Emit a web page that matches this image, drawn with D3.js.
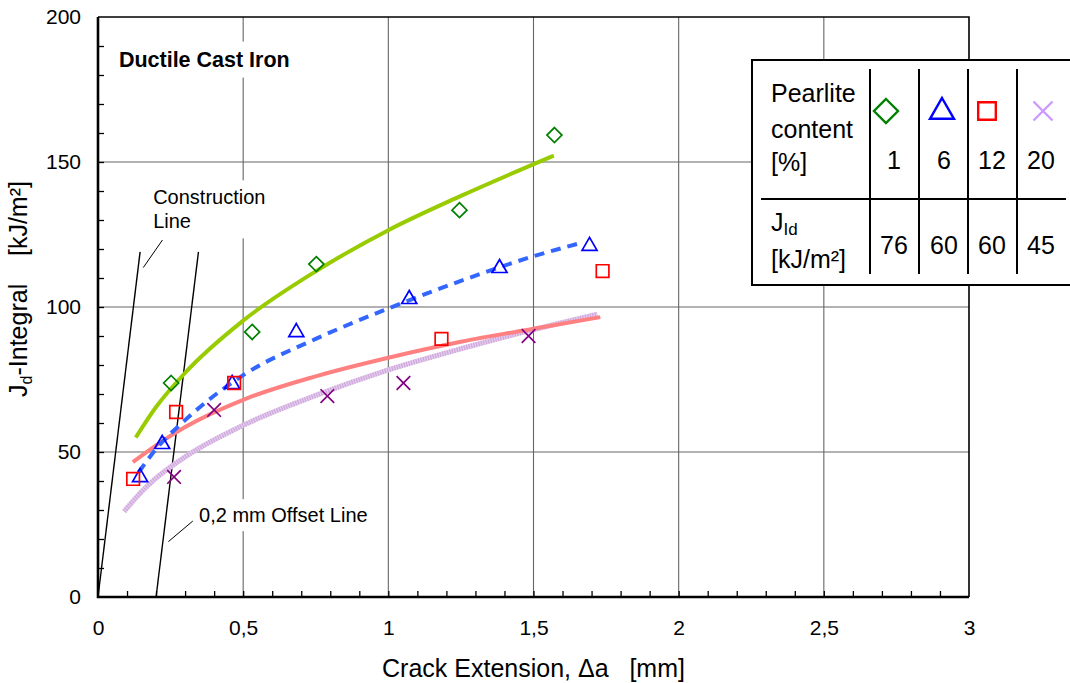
<!DOCTYPE html>
<html>
<head>
<meta charset="utf-8">
<script src="https://cdn.jsdelivr.net/npm/d3@7"></script>
<style>
  body { margin: 0; background: #fff; }
  svg { display: block; font-family: "Liberation Sans", Arial, sans-serif; }
  text { white-space: pre; }
</style>
</head>
<body>
<script>
// measured points (crack extension mm, J kJ/m²) per pearlite content
const pearlite = [1, 6, 12, 20];
const jId = [76, 60, 60, 45];

const p1X = [0.252, 0.531, 0.752, 1.245, 1.572];
const p1Y = [73.8, 91.4, 114.8, 133.4, 159.3];
const p6X = [0.145, 0.221, 0.462, 0.683, 1.072, 1.383, 1.693];
const p6Y = [41.7, 53.1, 73.8, 91.7, 103.1, 113.8, 121.4];
const p12X = [0.121, 0.269, 0.469, 1.183, 1.738];
const p12Y = [40.7, 63.8, 73.8, 89.0, 112.4];
const p20X = [0.262, 0.400, 0.790, 1.052, 1.483];
const p20Y = [41.4, 64.5, 69.3, 73.8, 90.0];

// fitted curves
const fit1X = [0.13, 0.2, 0.3, 0.5, 0.75, 1.0, 1.25, 1.57];
const fit1Y = [55, 65.5, 77.3, 95.3, 112.3, 126.5, 138.3, 152.2];
const fit6X = [0.14, 0.2, 0.3, 0.5, 0.75, 1.0, 1.25, 1.5, 1.66];
const fit6Y = [43, 51, 61, 76.5, 89, 99.5, 109, 117.5, 122];
const fit12X = [0.12, 0.2, 0.3, 0.5, 0.75, 1.0, 1.25, 1.5, 1.73];
const fit12Y = [46.5, 52.3, 58.6, 68, 76.1, 82.5, 88, 92.5, 96.5];
const fit20X = [0.09, 0.15, 0.2, 0.3, 0.5, 0.75, 1.0, 1.25, 1.5, 1.72];
const fit20Y = [29.5, 36.3, 41, 48.3, 59.2, 69.5, 78.3, 85.6, 92.2, 97.5];

// construction & offset line
const constructionX = [0, 0.145], constructionY = [0, 119];
const offsetX = [0.2, 0.346], offsetY = [0, 119];

const xTicks = [0, 0.5, 1, 1.5, 2, 2.5, 3];
const yTicks = [0, 50, 100, 150, 200];

const W = 1070, H = 683;
const svg = d3.select('body').append('svg').attr('width', W).attr('height', H);

const x = d3.scaleLinear().domain([0, 3]).range([98, 969]);
const y = d3.scaleLinear().domain([0, 200]).range([597, 17]);
const fmt = d => String(d).replace('.', ',');

// grid
svg.append('g').selectAll('line').data(xTicks.slice(1, -1)).join('line')
    .attr('x1', d => x(d)).attr('x2', d => x(d)).attr('y1', y(0)).attr('y2', y(200))
    .attr('stroke', '#666').attr('stroke-width', 1.1);
svg.append('g').selectAll('line').data(yTicks.slice(1, -1)).join('line')
    .attr('x1', x(0)).attr('x2', x(3)).attr('y1', d => y(d)).attr('y2', d => y(d))
    .attr('stroke', '#666').attr('stroke-width', 1.1);

// frame top/right
svg.append('path')
    .attr('d', `M${x(0)},${y(200)}H${x(3)}V${y(0)}`)
    .attr('fill', 'none').attr('stroke', '#000').attr('stroke-width', 1.6);

// minor ticks (inward)
const xMinor = d3.axisBottom(x).tickValues(d3.range(1, 30).map(i => i / 10)).tickSize(-6).tickFormat('');
const yMinor = d3.axisLeft(y).tickValues(d3.range(1, 20).map(i => i * 10)).tickSize(-6).tickFormat('');
const gxm = svg.append('g').attr('transform', `translate(0,${y(0)})`).call(xMinor);
const gym = svg.append('g').attr('transform', `translate(${x(0)},0)`).call(yMinor);
[gxm, gym].forEach(g => {
    g.select('.domain').remove();
    g.selectAll('line').attr('stroke', '#000').attr('stroke-width', 1.3);
});

// tick labels
const gx = svg.append('g').attr('transform', `translate(0,${y(0)})`)
    .call(d3.axisBottom(x).tickValues(xTicks).tickSize(0).tickPadding(23).tickFormat(fmt));
const gy = svg.append('g').attr('transform', `translate(${x(0)},0)`)
    .call(d3.axisLeft(y).tickValues(yTicks).tickSize(0).tickPadding(17));
[gx, gy].forEach(g => {
    g.select('.domain').remove();
    g.selectAll('text').attr('font-size', 21).attr('font-family', '"Liberation Sans", Arial, sans-serif').attr('fill', '#000');
});

// axis lines
svg.append('path')
    .attr('d', `M${x(0)},${y(200)}V${y(0)}H${x(3)}`)
    .attr('fill', 'none').attr('stroke', '#000').attr('stroke-width', 2.6);

// axis titles
svg.append('text')
    .attr('x', (x(0) + x(3)) / 2).attr('y', 677)
    .attr('text-anchor', 'middle').attr('font-size', 25)
    .text('Crack Extension, Δa   [mm]');

const yTitle = svg.append('text')
    .attr('transform', 'translate(27,289) rotate(-90)')
    .attr('text-anchor', 'middle').attr('font-size', 25);
yTitle.append('tspan').text('J');
yTitle.append('tspan').attr('font-size', 16).attr('dy', 5).text('d');
yTitle.append('tspan').attr('dy', -5).text('-Integral    [kJ/m²]');

// labels with white boxes
function boxedLabel(lines, px, py, size, weight, pad) {
    const g = svg.append('g');
    const t = g.append('text').attr('font-size', size).attr('font-weight', weight);
    lines.forEach((l, i) => t.append('tspan').attr('x', px).attr('y', py + i * size * 1.2).text(l));
    const b = t.node().getBBox();
    g.insert('rect', 'text')
        .attr('x', b.x - pad[0]).attr('y', b.y - pad[1])
        .attr('width', b.width + 2 * pad[0]).attr('height', b.height + 2 * pad[1])
        .attr('fill', '#fff');
    return g;
}
boxedLabel(['Ductile Cast Iron'], x(0.072), y(182.9), 21.5, 'bold', [8, 6]);
boxedLabel(['Construction', 'Line'], x(0.19), y(135.4), 20, 'normal', [4, 6]);
boxedLabel(['0,2 mm Offset Line'], x(0.348), y(25.8), 20, 'normal', [4, 5]);

// construction & offset lines
const straight = d3.line().x(d => x(d[0])).y(d => y(d[1]));
[[constructionX, constructionY], [offsetX, offsetY]].forEach(([xs, ys]) => {
    svg.append('path').attr('d', straight(d3.zip(xs, ys)))
        .attr('fill', 'none').attr('stroke', '#000').attr('stroke-width', 1.4);
});
// leaders
svg.append('path').attr('d', straight([[0.222, 123.1], [0.156, 113.6]]))
    .attr('stroke', '#000').attr('stroke-width', 1);
svg.append('path').attr('d', straight([[0.3266, 26.2], [0.2424, 19.1]]))
    .attr('stroke', '#000').attr('stroke-width', 1);

// fit curves
const curve = d3.line().x(d => x(d[0])).y(d => y(d[1])).curve(d3.curveMonotoneX);
svg.append('path').attr('d', curve(d3.zip(fit20X, fit20Y)))
    .attr('fill', 'none').attr('stroke', '#e4cdec').attr('stroke-width', 5);
svg.append('path').attr('d', curve(d3.zip(fit20X, fit20Y)))
    .attr('fill', 'none').attr('stroke', '#cfa6dd').attr('stroke-width', 5).attr('stroke-dasharray', '1.2,1.3');
svg.append('path').attr('d', curve(d3.zip(fit12X, fit12Y)))
    .attr('fill', 'none').attr('stroke', '#ff8080').attr('stroke-width', 4);
svg.append('path').attr('d', curve(d3.zip(fit6X, fit6Y)))
    .attr('fill', 'none').attr('stroke', '#3366ff').attr('stroke-width', 4).attr('stroke-dasharray', '10,7');
svg.append('path').attr('d', curve(d3.zip(fit1X, fit1Y)))
    .attr('fill', 'none').attr('stroke', '#99cc00').attr('stroke-width', 4);

// marker shapes
const shapes = {
    diamond: s => `M0,${-7.5 * s}L${7.5 * s},0L0,${7.5 * s}L${-7.5 * s},0Z`,
    triangle: s => `M0,${-7.5 * s}L${7.5 * s},${5.5 * s}L${-7.5 * s},${5.5 * s}Z`,
    square: s => `M${-6.3 * s},${-6.3 * s}h${12.6 * s}v${12.6 * s}h${-12.6 * s}Z`,
    cross: s => `M${-6.8 * s},${-6.8 * s}L${6.8 * s},${6.8 * s}M${6.8 * s},${-6.8 * s}L${-6.8 * s},${6.8 * s}`
};
const seriesDefs = [
    { xs: p1X, ys: p1Y, shape: 'diamond', color: '#008000', legendColor: '#008000' },
    { xs: p6X, ys: p6Y, shape: 'triangle', color: '#0000ff', legendColor: '#0000ff' },
    { xs: p12X, ys: p12Y, shape: 'square', color: '#ff0000', legendColor: '#ff0000' },
    { xs: p20X, ys: p20Y, shape: 'cross', color: '#800080', legendColor: '#cc99ff' }
];
seriesDefs.forEach(sd => {
    svg.append('g').selectAll('path').data(d3.zip(sd.xs, sd.ys)).join('path')
        .attr('transform', d => `translate(${x(d[0])},${y(d[1])})`)
        .attr('d', shapes[sd.shape](1))
        .attr('fill', 'none').attr('stroke', sd.color).attr('stroke-width', 1.7);
});

// legend table
const lg = svg.append('g');
lg.append('rect').attr('x', 752).attr('y', 60).attr('width', 340).attr('height', 225)
    .attr('fill', '#fff').attr('stroke', '#000').attr('stroke-width', 2);
const colX = [870, 919, 968, 1017];
const colC = [894, 944, 992, 1041];
lg.selectAll('line.v').data(colX).join('line').attr('class', 'v')
    .attr('x1', d => d).attr('x2', d => d).attr('y1', 69).attr('y2', 274)
    .attr('stroke', '#000').attr('stroke-width', 2);
lg.append('line').attr('x1', 761).attr('x2', 1066).attr('y1', 199).attr('y2', 199)
    .attr('stroke', '#000').attr('stroke-width', 2);
const lt = lg.append('text').attr('font-size', 25);
['Pearlite', 'content', '[%]'].forEach((s, i) =>
    lt.append('tspan').attr('x', 771).attr('y', [102, 138, 171][i]).text(s));
const jt = lg.append('text').attr('font-size', 25).attr('x', 771).attr('y', 231);
jt.append('tspan').text('J');
jt.append('tspan').attr('font-size', 17).attr('dy', 4).text('Id');
lg.append('text').attr('font-size', 25).attr('x', 771).attr('y', 268).text('[kJ/m²]');
const markerOffset = [-8, -2, -5, 2];
seriesDefs.forEach((sd, i) => {
    lg.append('path')
        .attr('transform', `translate(${colC[i] + markerOffset[i]},${i === 1 ? 110 : 111})`)
        .attr('d', shapes[sd.shape](i < 2 ? 1.6 : 1.4))
        .attr('fill', 'none').attr('stroke', sd.legendColor).attr('stroke-width', 2.4);
});
lg.selectAll('text.pc').data(pearlite).join('text').attr('class', 'pc')
    .attr('x', (d, i) => colC[i]).attr('y', 169).attr('text-anchor', 'middle')
    .attr('font-size', 25).text(d => d);
lg.selectAll('text.jv').data(jId).join('text').attr('class', 'jv')
    .attr('x', (d, i) => colC[i]).attr('y', 254).attr('text-anchor', 'middle')
    .attr('font-size', 25).text(d => d);
</script>
</body>
</html>
